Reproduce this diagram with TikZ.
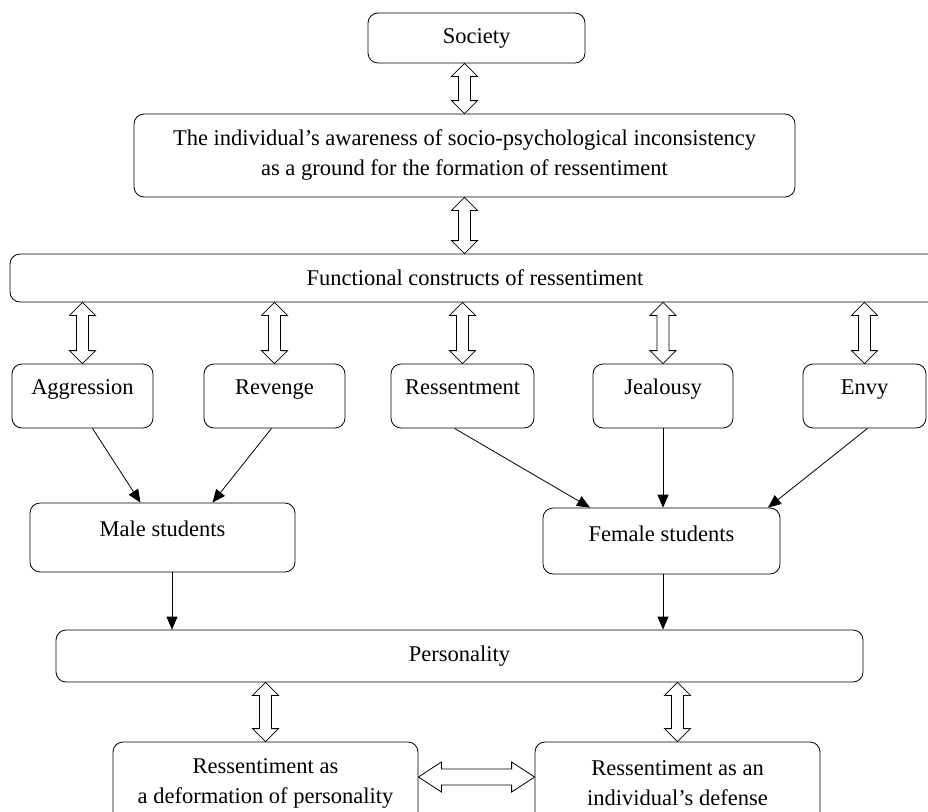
\documentclass[tikz,border=0pt]{standalone}
\usepackage{fontspec}
\setmainfont{Liberation Serif}
\usetikzlibrary{arrows.meta,calc}
\newcommand\vdbl[2]{\path[dbl] let \p1=(#1), \p2=(#2) in
  (\x1,\y1) -- (\x1+13pt,\y1-13pt) -- (\x1+6pt,\y1-13pt) -- (\x1+6pt,\y2+13pt) --
  (\x1+13pt,\y2+13pt) -- (\x1,\y2) -- (\x1-13pt,\y2+13pt) -- (\x1-6pt,\y2+13pt) --
  (\x1-6pt,\y1-13pt) -- (\x1-13pt,\y1-13pt) -- cycle;}
\newcommand\hdbl[2]{\path[dbl] let \p1=(#1), \p2=(#2) in
  (\x1,\y1) -- (\x1+23pt,\y1+15pt) -- (\x1+23pt,\y1+8pt) -- (\x2-23pt,\y1+8pt) --
  (\x2-23pt,\y1+15pt) -- (\x2,\y1) -- (\x2-23pt,\y1-15pt) -- (\x2-23pt,\y1-8pt) --
  (\x1+23pt,\y1-8pt) -- (\x1+23pt,\y1-15pt) -- cycle;}
\begin{document}
\begin{tikzpicture}[x=1pt,y=-1pt,
  box/.style={draw, rounded corners=10pt, inner sep=0pt, align=center,
    font=\fontsize{22.5}{30}\selectfont, line width=0.8pt},
  topbox/.style={box, text height=30pt, text depth=34pt},
  dbl/.style={draw, line width=0.8pt, fill=white, line join=miter},
  arr/.style={-{Triangle[length=13pt,width=11pt]}, line width=0.8pt}]
\path[use as bounding box, clip] (0,0) rectangle (928,811);
\fill[white] (0,0) rectangle (928,811);

\node[box, minimum width=217, minimum height=50] (soc) at (476.5,38) {Society};
\node[box, minimum width=661, minimum height=83] (aware) at (464.5,155.5)
  {The individual’s awareness of socio-psychological inconsistency\\as a ground for the formation of ressentiment};
\node[box, minimum width=930, minimum height=48] (func) at (475,278) {Functional constructs of ressentiment};

\node[topbox, minimum width=141] (aggr) at (82.5,396) {Aggression};
\node[topbox, minimum width=141] (rev) at (274.5,396) {Revenge};
\node[topbox, minimum width=143] (ress) at (462.5,396) {Ressentment};
\node[topbox, minimum width=140] (jeal) at (663,396) {Jealousy};
\node[topbox, minimum width=123] (envy) at (864.5,396) {Envy};

\node[box, minimum width=265, text height=33pt, text depth=36pt] (male) at (162.5,537.5) {Male students};
\node[box, minimum width=237, text height=33pt, text depth=33pt] (female) at (661.5,541) {Female students};

\node[box, minimum width=807, minimum height=52] (pers) at (459.5,656) {Personality};

\node[box, minimum width=305, minimum height=82] (bl) at (265.5,783) {Ressentiment as\\a deformation of personality};
\node[box, minimum width=285, minimum height=82] (br) at (677.5,783) {Ressentiment as an\\individual’s defense};

\vdbl{soc.south -| aware.north}{aware.north}
\vdbl{aware.south}{func.north -| aware.south}
\vdbl{func.south -| aggr.north}{aggr.north}
\vdbl{func.south -| rev.north}{rev.north}
\vdbl{func.south -| ress.north}{ress.north}
\vdbl{func.south -| jeal.north}{jeal.north}
\vdbl{func.south -| envy.north}{envy.north}
\vdbl{pers.south -| bl.north}{bl.north}
\vdbl{pers.south -| br.north}{br.north}
\hdbl{[yshift=6pt]bl.east}{[yshift=6pt]br.west}

\draw[arr] ([xshift=10pt]aggr.south) -- ([xshift=-22pt]male.north);
\draw[arr] ([xshift=-3pt]rev.south) -- ([xshift=50pt]male.north);
\draw[arr] ([xshift=-8pt]ress.south) -- ([xshift=-71.5pt]female.north);
\draw[arr] (jeal.south) -- (jeal.south |- female.north);
\draw[arr] ([xshift=3pt]envy.south) -- ([xshift=106.5pt]female.north);
\draw[arr] ([xshift=9.5pt]male.south) -- ([xshift=9.5pt]male.south |- pers.north);
\draw[arr] ([xshift=1.5pt]female.south) -- ([xshift=1.5pt]female.south |- pers.north);
\end{tikzpicture}
\end{document}
